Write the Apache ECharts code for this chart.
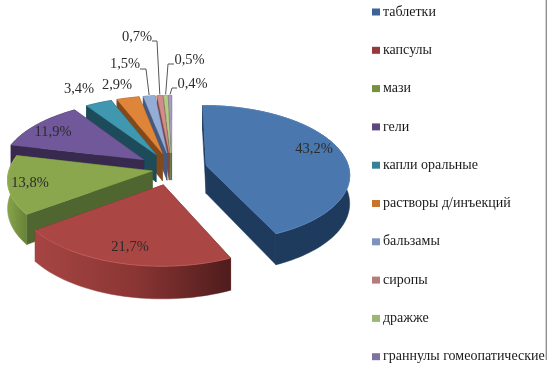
<!DOCTYPE html>
<html>
<head>
<meta charset="utf-8">
<style>
	html, body { margin: 0; padding: 0; background: #fff; }
	#chart { width: 547px; height: 367px; }
</style>
<script src="https://cdn.jsdelivr.net/npm/echarts@6/dist/echarts.min.js"></script>
</head>
<body>
<div id="chart"></div>
<script>
	// данные
	var categories = ['таблетки', 'капсулы', 'мази', 'гели', 'капли оральные', 'растворы д/инъекций', 'бальзамы', 'сиропы', 'дражже', 'граннулы гомеопатические'];
	var shares = [43.2, 21.7, 13.8, 11.9, 3.4, 2.9, 1.5, 0.7, 0.5, 0.4];

	// цвета: верх, боковые стенки, легенда
	var topColors = ['#4a77ad', '#aa4744', '#8aa74e', '#71589a', '#3f97b0', '#de8539', '#93add6', '#d08d8c', '#b4cb88', '#a99ac2'];
	var wallColors = ['#1e3a5c', '#6f2a29', '#4f6630', '#38294f', '#1d4b5a', '#84491b', '#46587c', '#7d4645', '#6a7e47', '#5d5076'];
	var legendColors = ['#3a6594', '#943a38', '#76903f', '#5c4880', '#358298', '#c8752c', '#7d93bd', '#b47c7b', '#9db673', '#7f72a0'];
	var rimHighlight = ['#5a88bd', '#c05c59', '#9ab75e', '', '', '', '', '', '', ''];

	// геометрия псевдо-3D круга
	var cx = 172, cy = 169;
	var rx = 143, ry = 67.8;
	var persp = 0.117;
	var depth = 28;
	var explode = [0.245, 0.235, 0.14, 0.245, 0.245, 0.245, 0.245, 0.245, 0.245, 0.245];
	var zOrder = [5, 9, 8, 7, 6, 5, 4, 3, 2, 1];
	// центры подписей
	var labelAt = [[314, 149], [130, 247], [30, 183], [53, 132], [79, 89], [117, 85], [125, 64], [137, 37], [189.5, 60], [192.5, 84]];
	// подписи с выноской: откуда идет линия
	var leaderFrom = { 6: [140, 69, 146], 7: [152, 41, 157], 8: [174, 64, 168], 9: [177, 88, 172] };

	var total = shares.reduce(function(a, b) { return a + b; }, 0);

	function project(i, angle, r, down) {
		var mid = midAngle(i);
		var gx = Math.sin(angle) * r + Math.sin(mid) * explode[i];
		var gy = -Math.cos(angle) * r - Math.cos(mid) * explode[i];
		var s = 1 / (1 - persp * gy);
		return [cx + gx * rx * s, cy + gy * ry * s + (down ? depth * s : 0)];
	}
	function startAngle(i) {
		var sum = 0;
		for (var k = 0; k < i; k++) sum += shares[k];
		return sum / total * Math.PI * 2;
	}
	function midAngle(i) {
		return startAngle(i) + shares[i] / total * Math.PI;
	}
	function rimPoints(i, value, down) {
		var a0 = startAngle(i), a1 = a0 + value / total * Math.PI * 2;
		var n = Math.max(2, Math.ceil((a1 - a0) / 0.03));
		var pts = [];
		for (var k = 0; k <= n; k++) {
			pts.push(project(i, a0 + (a1 - a0) * k / n, 1, down));
		}
		return pts;
	}

	function makeRender(i) {
		return function(params, api) {
			var value = api.value(0);
			var a0 = startAngle(i), a1 = a0 + value / total * Math.PI * 2;
			var rimTop = rimPoints(i, value, false);
			var rimBottom = rimPoints(i, value, true);
			var apexTop = project(i, 0, 0, false), apexBottom = project(i, 0, 0, true);
			var children = [];
			function poly(points, fill) {
				children.push({ type: 'polygon', shape: { points: points }, style: { fill: fill, stroke: fill, lineWidth: 0.5 } });
			}
			// стенки по радиусам
			poly([apexTop, apexBottom, project(i, a0, 1, true), project(i, a0, 1, false)], wallColors[i]);
			poly([apexTop, apexBottom, project(i, a1, 1, true), project(i, a1, 1, false)], wallColors[i]);
			// внешняя стенка
			var rimFill = wallColors[i];
			if (i === 1) {
				rimFill = new echarts.graphic.LinearGradient(0, 0, 1, 0, [
					{ offset: 0, color: '#a64543' }, { offset: 0.5, color: '#8b3634' }, { offset: 1, color: '#4f1c1c' }
				]);
			} else if (i === 2) {
				rimFill = new echarts.graphic.LinearGradient(0, 0, 1, 0, [
					{ offset: 0, color: '#87a44c' }, { offset: 1, color: '#668238' }
				]);
			}
			poly(rimTop.concat(rimBottom.slice().reverse()), rimFill);
			// верх
			poly([apexTop].concat(rimTop), topColors[i]);
			// светлая фаска по краю
			if (rimHighlight[i]) {
				children.push({
					type: 'polyline',
					shape: { points: rimTop },
					style: { stroke: rimHighlight[i], lineWidth: 1, fill: null, opacity: 0.8 }
				});
			}

			// подпись
			var pos = labelAt[i];
			var lead = leaderFrom[i];
			if (lead) {
				var end = project(i, midAngle(i), 1, false);
				children.push({
					type: 'polyline',
					shape: { points: [[lead[0], lead[1]], [lead[2], lead[1]], [end[0], end[1] - 1]] },
					style: { stroke: '#555', lineWidth: 1, fill: null }
				});
			}
			children.push({
				type: 'text',
				style: {
					x: pos[0], y: pos[1],
					text: value.toFixed(1).replace('.', ',') + '%',
					font: '14.5px "Liberation Serif"',
					fill: '#2b2b2b',
					align: 'center',
					verticalAlign: 'middle'
				}
			});
			return { type: 'group', children: children };
		};
	}

	var series = categories.map(function(name, i) {
		return {
			name: name,
			type: 'custom',
			coordinateSystem: 'none',
			z: zOrder[i],
			silent: true,
			itemStyle: { color: legendColors[i] },
			data: [[shares[i]]],
			renderItem: makeRender(i)
		};
	});

	var chart = echarts.init(document.getElementById('chart'));
	chart.setOption({
		animation: false,
		legend: {
			orient: 'vertical',
			left: 372,
			top: 5,
			padding: 0,
			itemWidth: 8,
			itemHeight: 7,
			itemGap: 24.3,
			selectedMode: false,
			icon: 'rect',
			textStyle: {
				fontFamily: 'Liberation Serif',
				fontSize: 14,
				lineHeight: 14,
				color: '#1a1a1a',
				padding: [0, 0, 0, -2]
			},
			data: categories
		},
		graphic: [{
			type: 'rect',
			silent: true,
			shape: { x: 545.6, y: 0, width: 1.4, height: 360 },
			style: { fill: '#8f8f8f' }
		}],
		series: series
	});
</script>
</body>
</html>
